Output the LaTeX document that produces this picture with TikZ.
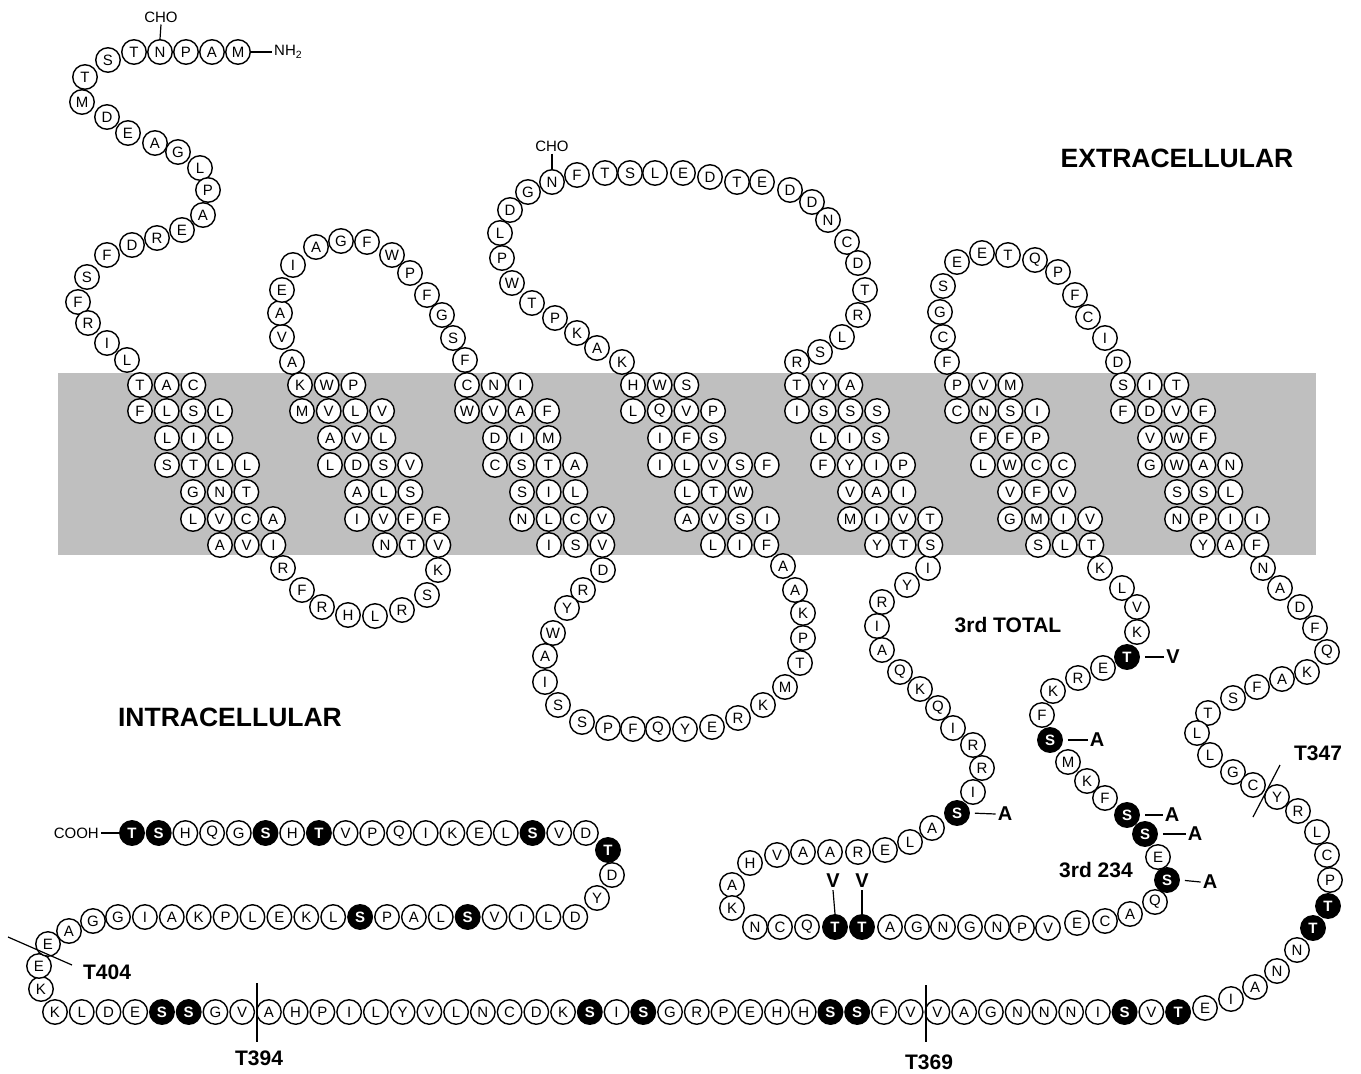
\documentclass[tikz,border=0pt]{standalone}
\usepackage{fontspec}
\setmainfont{Liberation Sans}
\usepackage{tikz}
\newcommand{\helixrow}[4]{\foreach \l [count=\i] in {#4} {\node[resid] (#1-\i) at ({#2+26.7*(\i-1)},#3) {\l};}}
\newcommand{\loopseg}[2]{\foreach \x/\y/\l [count=\i] in {#2} {\node[resid] (#1-\i) at (\x,\y) {\l};}}
\tikzset{
  resid/.style={circle, draw, fill=white, line width=1.4pt, minimum size=24.5pt, inner sep=0pt, font=\fontsize{15}{15}\selectfont},
  resP/.style={resid, fill=black, text=white, font=\fontsize{15}{15}\selectfont\bfseries},
  band/.style={gray!50},
  chem/.style={font=\fontsize{15}{15}\selectfont, inner sep=2pt},
  mut/.style={font=\bfseries\fontsize{20}{20}\selectfont, inner sep=2pt},
  site/.style={font=\bfseries\fontsize{21}{21}\selectfont, inner sep=2pt},
  region/.style={font=\bfseries\fontsize{26.5}{26.5}\selectfont},
  tick/.style={line width=1.2pt},
}
\begin{document}
\begin{tikzpicture}[x=1pt, y=-1pt]
\useasboundingbox (0,0) rectangle (1361,1074);
\fill[band] (58,373) rectangle (1316,555);

% N-terminus and loops
\loopseg{nt}{238/52/M, 212/52/A, 186/52/P, 160/52/N, 134/52/T, 108/60/S, 85/77/T, 82/102/M, 107/117/D, 128/133/E, 155/143/A, 178/152/G, 200/168/L, 208/190/P, 203/215/A, 182/230/E, 157/238/R, 132/245/D, 107/255/F, 87/277/S, 78/302/F, 88/323/R, 107/343/I, 127/360/L}
\loopseg{ia}{283/568/R, 302/590/F, 322/607/R, 348/615/H, 375/616/L, 402/610/R, 427/595/S, 438/570/K}
\loopseg{ea}{292/362/A, 282/337/V, 280/313/A, 282/290/E, 293/265/I, 316/247/A, 341/241/G, 367/242/F, 392/255/W, 410/273/P, 427/295/F, 442/315/G, 453/338/S, 465/360/F}
\loopseg{ib}{603/570/D, 583/590/R, 567/608/Y, 553/633/W, 545/656/A, 545/682/I, 558/705/S, 582/722/S, 608/728/P, 633/729/F, 658/729/Q, 685/729/Y, 712/727/E, 738/718/R, 763/705/K, 785/687/M, 800/663/T, 803/638/P, 803/613/K, 795/590/A, 783/566/A}
\loopseg{eb}{622/362/K, 597/348/A, 577/333/K, 555/318/P, 532/303/T, 512/283/W, 502/258/P, 500/233/L, 510/210/D, 528/192/G, 552/182/N, 577/175/F, 605/173/T, 630/173/S, 655/173/L, 683/173/E, 710/177/D, 737/182/T, 762/182/E, 790/190/D, 812/202/D, 828/220/N, 847/242/C, 858/263/D, 865/290/T, 858/315/R, 842/337/L, 820/352/S, 797/362/R}
\loopseg{ic}{928/568/I, 907/585/Y, 882/602/R, 877/626/I, 882/650/A, 900/672/Q, 920/689/K, 938/708/Q, 953/728/I, 973/745/R, 982/768/R, 973/792/I, 932/828/A, 910/842/L, 885/850/E, 858/852/R, 830/852/A, 803/852/A, 777/855/V, 750/863/H, 732/885/A, 732/908/K, 755/927/N, 780/927/C, 807/927/Q, 890/927/A, 917/927/G, 943/927/N, 970/927/G, 997/927/N, 1022/928/P, 1048/928/V, 1077/923/E, 1105/921/C, 1130/914/A, 1155/902/Q, 1158/857/E, 1105/798/F, 1087/781/K, 1068/762/M, 1042/715/F, 1053/691/K, 1078/678/R, 1103/668/E, 1137/632/K, 1137/607/V, 1122/588/L, 1100/568/K}
\loopseg{ec}{947/362/F, 943/337/C, 940/312/G, 943/286/S, 957/262/E, 982/253/E, 1008/255/T, 1035/260/Q, 1058/272/P, 1075/295/F, 1088/317/C, 1105/338/I, 1118/362/D}
\loopseg{ct}{1263/568/N, 1280/588/A, 1300/607/D, 1315/628/F, 1327/652/Q, 1307/672/K, 1282/679/A, 1257/687/F, 1233/698/S, 1208/713/T, 1197/733/L, 1210/755/L, 1233/772/G, 1253/785/C, 1277/797/Y, 1298/811/R, 1317/832/L, 1327/855/C, 1330/880/P, 1297/950/N, 1277/971/N, 1255/987/A, 1231/999/I, 1205/1008/E}
\loopseg{lt}{41/989/K, 39/966/E, 48/944/E, 69/931/A, 93/921/G}
\loopseg{rt}{597/898/Y, 612/875/D}

% helices
\helixrow{h1a}{140}{385}{T,A,C}
\helixrow{h1b}{140}{411}{F,L,S,L}
\helixrow{h1c}{167}{438}{L,I,L}
\helixrow{h1d}{167}{465}{S,T,L,L}
\helixrow{h1e}{193}{492}{G,N,T}
\helixrow{h1f}{193}{519}{L,V,C,A}
\helixrow{h1g}{220}{545}{A,V,I}
\helixrow{h2a}{300}{385}{K,W,P}
\helixrow{h2b}{302}{411}{M,V,L,V}
\helixrow{h2c}{330}{438}{A,V,L}
\helixrow{h2d}{330}{465}{L,D,S,V}
\helixrow{h2e}{357}{492}{A,L,S}
\helixrow{h2f}{357}{519}{I,V,F,F}
\helixrow{h2g}{385}{545}{N,T,V}
\helixrow{h3a}{467}{385}{C,N,I}
\helixrow{h3b}{467}{411}{W,V,A,F}
\helixrow{h3c}{495}{438}{D,I,M}
\helixrow{h3d}{495}{465}{C,S,T,A}
\helixrow{h3e}{522}{492}{S,I,L}
\helixrow{h3f}{522}{519}{N,L,C,V}
\helixrow{h3g}{549}{545}{I,S,V}
\helixrow{h4a}{633}{385}{H,W,S}
\helixrow{h4b}{633}{411}{L,Q,V,P}
\helixrow{h4c}{660}{438}{I,F,S}
\helixrow{h4d}{660}{465}{I,L,V,S,F}
\helixrow{h4e}{687}{492}{L,T,W}
\helixrow{h4f}{687}{519}{A,V,S,I}
\helixrow{h4g}{713}{545}{L,I,F}
\helixrow{h5a}{797}{385}{T,Y,A}
\helixrow{h5b}{797}{411}{I,S,S,S}
\helixrow{h5c}{823}{438}{L,I,S}
\helixrow{h5d}{823}{465}{F,Y,I,P}
\helixrow{h5e}{850}{492}{V,A,I}
\helixrow{h5f}{850}{519}{M,I,V,T}
\helixrow{h5g}{877}{545}{Y,T,S}
\helixrow{h6a}{957}{385}{P,V,M}
\helixrow{h6b}{957}{411}{C,N,S,I}
\helixrow{h6c}{983}{438}{F,F,P}
\helixrow{h6d}{983}{465}{L,W,C,C}
\helixrow{h6e}{1010}{492}{V,F,V}
\helixrow{h6f}{1010}{519}{G,M,I,V}
\helixrow{h6g}{1038}{545}{S,L,T}
\helixrow{h7a}{1123}{385}{S,I,T}
\helixrow{h7b}{1123}{411}{F,D,V,F}
\helixrow{h7c}{1150}{438}{V,W,F}
\helixrow{h7d}{1150}{465}{G,W,A,N}
\helixrow{h7e}{1177}{492}{S,S,L}
\helixrow{h7f}{1177}{519}{N,P,I,I}
\helixrow{h7g}{1203}{545}{Y,A,F}

% C-terminal rows
\foreach \i/\l in {0/K,1/L,2/D,3/E,6/G,7/V,8/A,9/H,10/P,11/I,12/L,13/Y,14/V,15/L,16/N,17/C,18/D,19/K,21/I,23/G,24/R,25/P,26/E,27/H,28/H,31/F,32/V,33/V,34/A,35/G,36/N,37/N,38/N,39/I,41/V}
  \node[resid] (b\i) at ({55+26.74*\i},1012) {\l};
\foreach \i/\l in {4/S,5/S,20/S,22/S,29/S,30/S,40/S,42/T}
  \node[resP] (b\i) at ({55+26.74*\i},1012) {\l};
\foreach \i/\l in {0/G,1/I,2/A,3/K,4/P,5/L,6/E,7/K,8/L,10/P,11/A,12/L,14/V,15/I,16/L,17/D}
  \node[resid] (m\i) at ({118+26.9*\i},917) {\l};
\foreach \i/\l in {9/S,13/S}
  \node[resP] (m\i) at ({118+26.9*\i},917) {\l};
\foreach \i/\l in {2/H,3/Q,4/G,6/H,8/V,9/P,10/Q,11/I,12/K,13/E,14/L,16/V,17/D}
  \node[resid] (c\i) at ({132+26.7*\i},833) {\l};
\foreach \i/\l in {0/T,1/S,5/S,7/T,15/S}
  \node[resP] (c\i) at ({132+26.7*\i},833) {\l};

% phosphorylation sites
\foreach \x/\y/\l/\n in {957/813/S/pa, 835/927/T/pb, 862/927/T/pc, 1167/880/S/pd, 1145/834/S/pe, 1127/815/S/pf, 1050/740/S/pg, 1127/657/T/ph, 1328/906/T/pi, 1313/928/T/pj, 608/850/T/pk}
  \node[resP] (\n) at (\x,\y) {\l};

% mutations
\node[mut] (va) at (1005,814) {A};
\node[mut] (vb) at (833,881) {V};
\node[mut] (vc) at (862,881) {V};
\node[mut] (vd) at (1210,882) {A};
\node[mut] (ve) at (1195,834) {A};
\node[mut] (vf) at (1172,815) {A};
\node[mut] (vg) at (1097,740) {A};
\node[mut] (vh) at (1173,657) {V};
\draw[tick, shorten <=5pt] (pa.east) -- (va.west);
\draw[tick] (pb.north) -- (vb.south);
\draw[tick] (pc.north) -- (vc.south);
\draw[tick, shorten <=5pt] (pd.east) -- (vd.west);
\draw[tick, shorten <=5pt] (pe.east) -- (ve.west);
\draw[tick, shorten <=5pt] (pf.east) -- (vf.west);
\draw[tick, shorten <=5pt] (pg.east) -- (vg.west);
\draw[tick, shorten <=5pt] (ph.east) -- (vh.west);

% ends and sugars
\node[chem] (choa) at (161,17) {CHO};
\node[chem] (chob) at (552,146) {CHO};
\node[chem, anchor=west] (nh) at (272,52) {NH\textsubscript{2}};
\node[chem, anchor=east] (cooh) at (101,833) {COOH};
\draw[tick] (choa.south) -- (nt-4.north);
\draw[tick] (chob.south) -- (eb-11.north);
\draw[tick] (nt-1.east) -- (nh.west);
\draw[tick] (cooh.east) -- (c0.west);

% truncation points
\coordinate (ka) at (8,937);
\coordinate (kb) at (72,965);
\coordinate (kc) at (257,983);
\coordinate (kd) at (257,1042);
\coordinate (ke) at (926,985);
\coordinate (kf) at (926,1042);
\coordinate (kg) at (1280,765);
\coordinate (kh) at (1253,817);
\draw[tick] (ka) -- (kb);
\draw[tick] (kc) -- (kd);
\draw[tick] (ke) -- (kf);
\draw[tick] (kg) -- (kh);
\node[site] (ta) at (107,972) {T404};
\node[site] (tb) at (259,1058) {T394};
\node[site] (tc) at (929,1062) {T369};
\node[site] (td) at (1318,753) {T347};
\node[site] (tot) at (1008,625) {3rd TOTAL};
\node[site] (tri) at (1096,870) {3rd 234};

\node[region] (ext) at (1177,158) {EXTRACELLULAR};
\node[region] (int) at (230,717) {INTRACELLULAR};
\end{tikzpicture}
\end{document}
